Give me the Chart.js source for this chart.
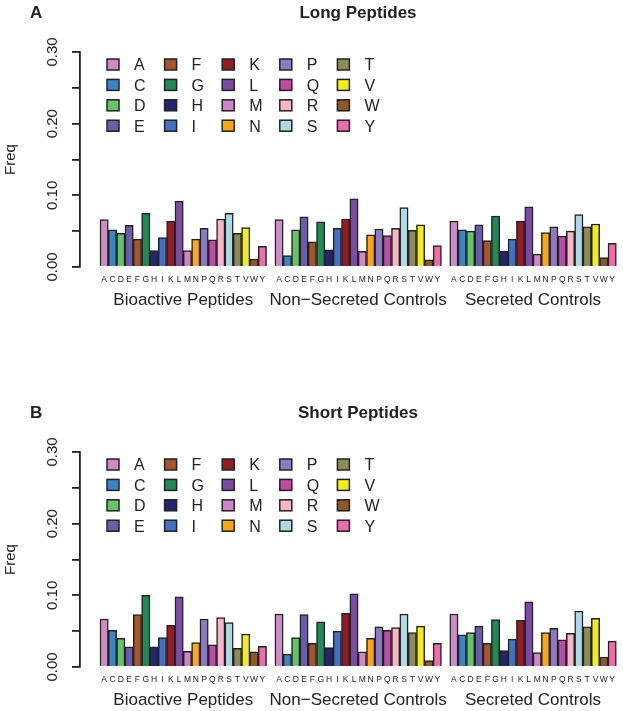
<!DOCTYPE html>
<html><head><meta charset="utf-8">
<script src="https://cdn.jsdelivr.net/npm/chart.js@4.4.1/dist/chart.umd.min.js"></script>
<style>
html,body{margin:0;padding:0;background:#fff;}
#wrap{position:relative;width:623px;height:711px;overflow:hidden;background:#fff;}
canvas{position:absolute;left:0;}
</style></head><body>
<div id="wrap">
<canvas id="cA" width="623" height="400" style="top:0px"></canvas>
<canvas id="cB" width="623" height="311" style="top:400px"></canvas>
</div>
<script>
// ---------- data ----------
const aminoAcids = ['A','C','D','E','F','G','H','I','K','L','M','N','P','Q','R','S','T','V','W','Y'];
const aaColors = ['#CF8AC8','#3D84C4','#64C466','#6A5CAC','#A8542A','#1F8A56','#25246E','#4472C2','#9A1A24','#7B4BA6',
                  '#D184C9','#FFA614','#8A7BC2','#BC4CA6','#F8B6C6','#AEDAE8','#8E8B5B','#F4EB1C','#8C5A2A','#F06BA9'];
const groupNames = ['Bioactive Peptides','Non\u2212Secreted Controls','Secreted Controls'];

const longBioactive    = [0.066,0.052,0.047,0.058,0.039,0.075,0.023,0.041,0.064,0.092,0.023,0.039,0.054,0.038,0.067,0.075,0.047,0.055,0.011,0.029];
const longNonSecreted  = [0.066,0.016,0.052,0.070,0.035,0.063,0.024,0.054,0.067,0.095,0.022,0.045,0.053,0.044,0.054,0.083,0.051,0.059,0.010,0.030];
const longSecreted     = [0.064,0.052,0.050,0.059,0.037,0.071,0.022,0.039,0.064,0.084,0.018,0.048,0.056,0.043,0.050,0.073,0.056,0.060,0.013,0.033];

const shortBioactive   = [0.067,0.051,0.040,0.028,0.073,0.100,0.028,0.041,0.058,0.098,0.022,0.034,0.067,0.031,0.069,0.062,0.026,0.046,0.021,0.029];
const shortNonSecreted = [0.074,0.018,0.041,0.073,0.033,0.063,0.027,0.050,0.075,0.102,0.021,0.040,0.056,0.051,0.055,0.074,0.048,0.057,0.009,0.033];
const shortSecreted    = [0.074,0.045,0.048,0.057,0.033,0.066,0.023,0.039,0.065,0.091,0.020,0.048,0.054,0.038,0.047,0.078,0.056,0.068,0.014,0.036];

const yTickValues = [0, 0.05, 0.10, 0.15, 0.20, 0.25, 0.30];
const yTickLabels = ['0.00', '', '0.10', '', '0.20', '', '0.30'];

// ---------- drawing ----------
const FONT = "'Liberation Sans', Arial, Helvetica, sans-serif";
const INK = '#222222';
const GROUP_STRIDE = 21;
const PLOT_TOP = 52, PLOT_BOTTOM = 267, AXIS_X = 80;

function buildPanel(canvasId, panelLetter, title, groups) {
  const points = [], colors = [], tickPos = [], tickText = {};
  groups.forEach((vals, g) => vals.forEach((v, j) => {
    const x = g * GROUP_STRIDE + j;
    points.push({x: x, y: v});
    colors.push(aaColors[j]);
    tickPos.push(x);
    tickText[x] = aminoAcids[j];
  }));

  const decor = {
    id: 'decor',
    afterDraw(chart) {
      const ctx = chart.ctx;
      const xs = chart.scales.x;
      ctx.save();
      ctx.fillStyle = INK;
      ctx.textBaseline = 'alphabetic';
      ctx.font = 'bold 17px ' + FONT;
      ctx.textAlign = 'left';
      ctx.fillText(panelLetter, 30, 18);
      ctx.textAlign = 'center';
      ctx.fillText(title, 358, 17.5);
      // group labels
      ctx.font = '17px ' + FONT;
      groupNames.forEach((name, g) => {
        const cx = xs.getPixelForValue(g * GROUP_STRIDE + 9.5);
        ctx.fillText(name, cx, 305);
      });
      // legend (column-major, 4 rows x 5 cols)
      ctx.font = '16px ' + FONT;
      ctx.textAlign = 'left';
      ctx.lineWidth = 1.5;
      ctx.strokeStyle = INK;
      aminoAcids.forEach((aa, k) => {
        const col = Math.floor(k / 4), row = k % 4;
        const x = 107 + col * 57.6, y = 64.5 + row * 20.4;
        ctx.fillStyle = aaColors[k];
        ctx.fillRect(x, y - 5.5, 12, 11);
        ctx.strokeRect(x, y - 5.5, 12, 11);
        ctx.fillStyle = INK;
        ctx.fillText(aa, x + 27, y + 5.8);
      });
      ctx.restore();
    }
  };

  return new Chart(document.getElementById(canvasId), {
    type: 'bar',
    data: {
      datasets: [{
        data: points,
        backgroundColor: colors,
        borderColor: INK,
        borderWidth: 1.5,
        barPercentage: 1,
        categoryPercentage: 1
      }]
    },
    options: {
      responsive: false,
      animation: false,
      devicePixelRatio: 1,
      layout: {padding: {top: PLOT_TOP, left: 0, right: 0, bottom: 0}},
      plugins: {legend: {display: false}, tooltip: {enabled: false}, title: {display: false}},
      scales: {
        x: {
          type: 'linear',
          offset: false,
          min: -2.9,
          max: 62.1,
          grid: {display: false, drawTicks: false},
          border: {display: false},
          afterBuildTicks: (s) => { s.ticks = tickPos.map(v => ({value: v})); },
          afterFit: (s) => { s.height = s.chart.height - PLOT_BOTTOM; },
          ticks: {
            autoSkip: false, maxRotation: 0, minRotation: 0, padding: 8,
            color: INK, font: {family: FONT, size: 8.5},
            callback: (v) => tickText[v] || ''
          }
        },
        y: {
          type: 'linear',
          min: 0, max: 0.30,
          afterBuildTicks: (s) => { s.ticks = yTickValues.map(v => ({value: v})); },
          afterFit: (s) => { s.width = AXIS_X; },
          grid: {display: true, drawOnChartArea: false, drawTicks: true, tickLength: 8, color: INK, lineWidth: 1.8},
          border: {display: true, color: INK, width: 1.8, z: 1},
          ticks: {
            minRotation: 90, maxRotation: 90, crossAlign: 'center', padding: 5,
            color: INK, font: {family: FONT, size: 15},
            callback: (v, i) => yTickLabels[i]
          },
          title: {display: true, text: 'Freq', color: INK, font: {family: FONT, size: 15}, padding: {top: 2, bottom: 0}}
        }
      }
    },
    plugins: [decor]
  });
}

buildPanel('cA', 'A', 'Long Peptides', [longBioactive, longNonSecreted, longSecreted]);
buildPanel('cB', 'B', 'Short Peptides', [shortBioactive, shortNonSecreted, shortSecreted]);
</script>
</body></html>
